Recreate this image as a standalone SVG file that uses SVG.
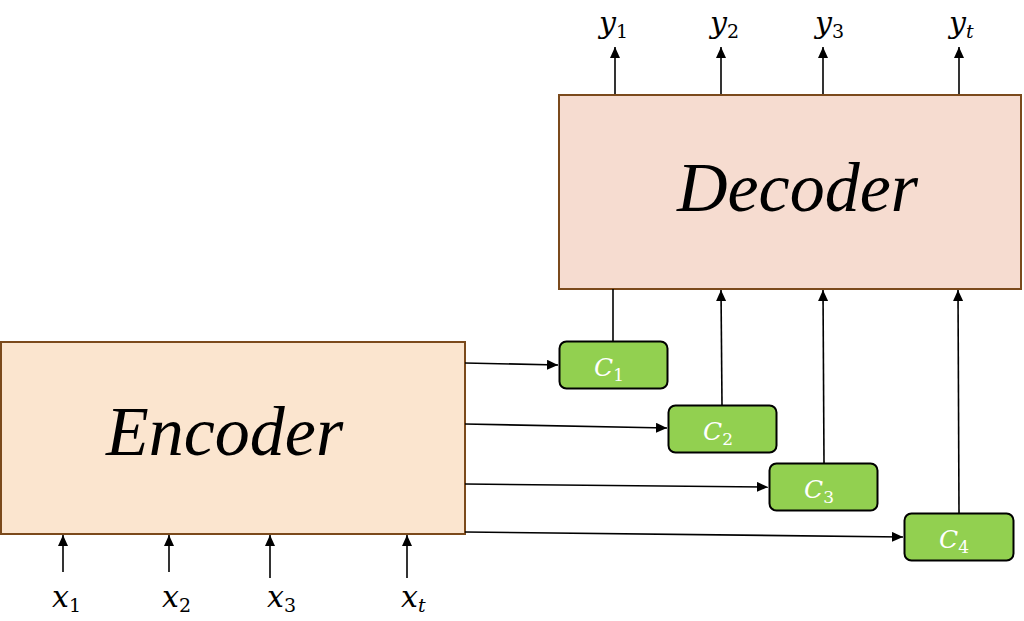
<svg xmlns="http://www.w3.org/2000/svg" width="1024" height="621" viewBox="0 0 1024 621">
  <defs>
    <marker id="arr" markerUnits="userSpaceOnUse" markerWidth="12" markerHeight="10" refX="11" refY="5" orient="auto">
      <path d="M0,0 L11,5 L0,10 z" fill="#000"/>
    </marker>
    <style>
      .big { stroke: #7b4a1c; stroke-width: 2; }
      .ctx { fill: #92d050; stroke: #000; stroke-width: 2; }
      .conn { stroke: #000; stroke-width: 1.6; fill: none; }
      .title { font-family: "Liberation Serif", serif; font-style: italic; font-size: 70px; fill: #000; }
      .var { font-family: "DejaVu Serif", serif; font-style: italic; font-size: 30px; fill: #000; }
      .sub { font-family: "DejaVu Serif", serif; font-style: normal; font-size: 19px; }
      .subi { font-family: "DejaVu Serif", serif; font-style: italic; font-size: 19px; }
      .cl { font-family: "DejaVu Serif", serif; font-style: italic; font-size: 25px; fill: #fff; }
      .csub { font-family: "DejaVu Serif", serif; font-style: normal; font-size: 17px; fill: #fff; }
    </style>
  </defs>
  <rect width="1024" height="621" fill="#fff"/>

  <g id="encoder">
    <rect class="big" x="1" y="342" width="464" height="192" fill="#fbe5cf"/>
    <text class="title" x="106" y="455">Encoder</text>
  </g>

  <g id="decoder">
    <rect class="big" x="559" y="95" width="462" height="194" fill="#f6dcd0"/>
    <text class="title" x="677" y="211">Decoder</text>
  </g>

  <g id="c1">
    <rect class="ctx" x="559.5" y="341.5" width="108" height="47" rx="7"/>
    <text class="cl" x="594" y="376">C<tspan class="csub" dy="5">1</tspan></text>
  </g>
  <g id="c2">
    <rect class="ctx" x="668.5" y="405.5" width="108" height="47" rx="7"/>
    <text class="cl" x="703" y="440">C<tspan class="csub" dy="5">2</tspan></text>
  </g>
  <g id="c3">
    <rect class="ctx" x="769.5" y="463.5" width="108" height="47" rx="7"/>
    <text class="cl" x="804" y="498">C<tspan class="csub" dy="5">3</tspan></text>
  </g>
  <g id="c4">
    <rect class="ctx" x="904.5" y="513.5" width="109" height="47" rx="7"/>
    <text class="cl" x="939" y="548">C<tspan class="csub" dy="5">4</tspan></text>
  </g>

  <g id="connectors">
    <line class="conn" x1="465" y1="363" x2="558" y2="365" marker-end="url(#arr)"/>
    <line class="conn" x1="465" y1="424" x2="667" y2="428" marker-end="url(#arr)"/>
    <line class="conn" x1="465" y1="484" x2="768" y2="487" marker-end="url(#arr)"/>
    <line class="conn" x1="465" y1="532" x2="903" y2="537" marker-end="url(#arr)"/>
    <line class="conn" x1="613" y1="341" x2="613" y2="289"/>
    <line class="conn" x1="722" y1="405" x2="721" y2="290" marker-end="url(#arr)"/>
    <line class="conn" x1="824" y1="463" x2="823" y2="290" marker-end="url(#arr)"/>
    <line class="conn" x1="959" y1="513" x2="958" y2="290" marker-end="url(#arr)"/>
    <line class="conn" x1="615" y1="94" x2="615" y2="47" marker-end="url(#arr)"/>
    <line class="conn" x1="721" y1="94" x2="721" y2="47" marker-end="url(#arr)"/>
    <line class="conn" x1="823" y1="94" x2="823" y2="47" marker-end="url(#arr)"/>
    <line class="conn" x1="959" y1="94" x2="959" y2="47" marker-end="url(#arr)"/>
    <line class="conn" x1="63" y1="572" x2="63" y2="535" marker-end="url(#arr)"/>
    <line class="conn" x1="169" y1="572" x2="169" y2="535" marker-end="url(#arr)"/>
    <line class="conn" x1="270" y1="578" x2="270" y2="535" marker-end="url(#arr)"/>
    <line class="conn" x1="407" y1="578" x2="407" y2="535" marker-end="url(#arr)"/>
  </g>

  <g id="outputs">
    <text class="var" x="599" y="33">y<tspan class="sub" dy="5">1</tspan></text>
    <text class="var" x="710" y="33">y<tspan class="sub" dy="5">2</tspan></text>
    <text class="var" x="815" y="33">y<tspan class="sub" dy="5">3</tspan></text>
    <text class="var" x="949" y="33">y<tspan class="subi" dy="5">t</tspan></text>
  </g>

  <g id="inputs">
    <text class="var" x="52" y="607">x<tspan class="sub" dy="5">1</tspan></text>
    <text class="var" x="162" y="607">x<tspan class="sub" dy="5">2</tspan></text>
    <text class="var" x="267" y="607">x<tspan class="sub" dy="5">3</tspan></text>
    <text class="var" x="401" y="607">x<tspan class="subi" dy="5">t</tspan></text>
  </g>
</svg>
